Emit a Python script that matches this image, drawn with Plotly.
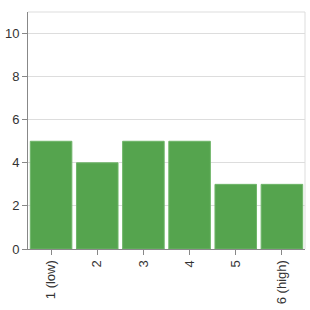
import plotly.graph_objects as go

categories = ["1 (low)", "2", "3", "4", "5", "6 (high)"]
values = [5, 4, 5, 5, 3, 3]

fig = go.Figure(go.Bar(
    x=categories, y=values,
    marker=dict(color="#55a44e", line=dict(color="#6fb569", width=1)),
    hoverinfo="skip",
))

fig.update_layout(
    width=310, height=310,
    margin=dict(l=28, r=5, t=12, b=61),
    paper_bgcolor="white", plot_bgcolor="white",
    bargap=0.1,
    showlegend=False,
    font=dict(family="Liberation Sans, Arial, sans-serif", size=13, color="#333"),
    shapes=[
        dict(type="line", xref="paper", yref="paper", x0=0, x1=1, y0=1, y1=1,
             line=dict(color="#dddddd", width=1)),
        dict(type="line", xref="paper", yref="paper", x0=1, x1=1, y0=0, y1=1,
             line=dict(color="#dddddd", width=1)),
    ],
)
fig.update_xaxes(
    type="category", tickangle=-90, showline=True, linecolor="#888", linewidth=1,
    ticks="outside", ticklen=5, tickcolor="#888", showgrid=False, automargin=False,
    tickfont=dict(size=13, color="#333"),
)
fig.update_yaxes(
    range=[0, 11], tickvals=[0, 2, 4, 6, 8, 10], showline=True, linecolor="#888",
    linewidth=1, ticks="outside", ticklen=5, tickcolor="#888", automargin=False,
    showgrid=True, gridcolor="#dddddd", zeroline=False,
    tickfont=dict(size=13, color="#333"),
)

fig.write_html(
    "out.html",
    config={"displayModeBar": False},
    post_script="document.body.style.margin='0';document.body.style.overflow='hidden';",
)
